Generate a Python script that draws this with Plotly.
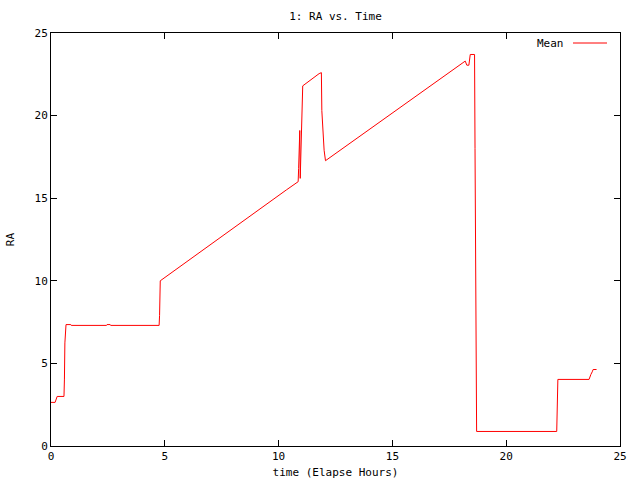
import plotly.graph_objects as go

time_hours = [0, 0.18, 0.27, 0.57, 0.59, 0.61, 0.66, 0.87, 0.89, 2.44, 2.46, 2.60, 2.62,
              4.75, 4.77, 4.80, 10.34, 10.86, 10.88, 10.90, 10.93, 10.95, 10.98, 11.02,
              11.06, 11.78, 11.88, 11.90, 11.95, 12.00, 12.06, 18.20, 18.27, 18.36, 18.42,
              18.61, 18.63, 18.66, 18.70, 22.22, 22.24, 22.27, 23.64, 23.66, 23.72, 23.78,
              23.82, 23.97]
ra_mean = [2.64, 2.64, 3.0, 3.0, 4.05, 6.24, 7.35, 7.35, 7.30, 7.30, 7.35, 7.35, 7.30,
           7.30, 7.9, 10.0, 15.5, 16.0, 16.8, 18.3, 19.1, 16.2, 17.6, 20.3,
           21.8, 22.54, 22.6, 20.3, 19.0, 17.9, 17.27, 23.3, 23.05, 23.05, 23.7,
           23.7, 18.0, 6.64, 0.88, 0.88, 2.42, 4.03, 4.03, 4.13, 4.33, 4.49,
           4.63, 4.63]

x_ticks = [0, 5, 10, 15, 20, 25]
y_ticks = [0, 5, 10, 15, 20, 25]

FONT = dict(family="DejaVu Sans Mono", size=11, color="black")

fig = go.Figure()
fig.add_trace(go.Scatter(x=time_hours, y=ra_mean, mode="lines", name="Mean",
                         line=dict(color="#ff0000", width=1), showlegend=False))

axis_common = dict(showgrid=False, zeroline=False, showline=True, linecolor="black",
                   linewidth=1, mirror="ticks", ticks="inside", ticklen=6,
                   tickcolor="black", tickfont=FONT, automargin=False)

fig.update_xaxes(range=[0, 25], tickvals=x_ticks, title=dict(text="time (Elapse Hours)", font=FONT, standoff=6),
                 **axis_common)
fig.update_yaxes(range=[0, 25], tickvals=y_ticks, title=dict(text="RA", font=FONT, standoff=17),
                 **axis_common)

fig.update_layout(
    width=640, height=480,
    margin=dict(l=51, r=20, t=33, b=34, autoexpand=False),
    paper_bgcolor="white", plot_bgcolor="white",
    title=dict(text="1: RA vs. Time", font=FONT, x=(51 + 620) / 2 / 640, xanchor="center",
               y=1 - 16 / 480, yanchor="middle"),
    font=FONT,
)

# gnuplot-style key: text then line sample
fig.add_annotation(xref="paper", yref="paper", x=(566 - 51) / 569, y=(446 - 43) / 413,
                   text="Mean", showarrow=False, xanchor="right", yanchor="middle", font=FONT)
fig.add_shape(type="line", xref="paper", yref="paper",
              x0=(573 - 51) / 569, x1=(607 - 51) / 569,
              y0=(446 - 43) / 413, y1=(446 - 43) / 413,
              line=dict(color="#ff0000", width=1))

fig.write_html("out.html", config={"displayModeBar": False},
               post_script="document.body.style.margin='0';document.body.style.overflow='hidden';")
